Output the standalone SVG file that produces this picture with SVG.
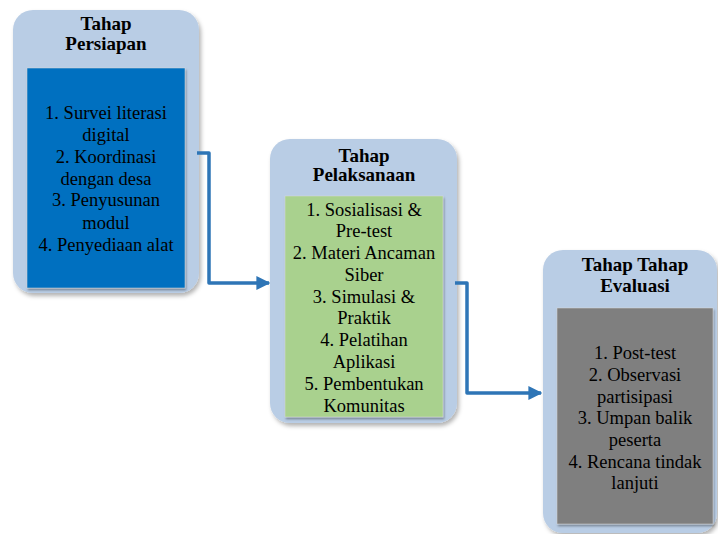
<svg xmlns="http://www.w3.org/2000/svg" width="718" height="534" viewBox="0 0 718 534">
<defs>
<filter id="sh" x="-10%" y="-10%" width="130%" height="130%">
<feDropShadow dx="2" dy="3" stdDeviation="2" flood-color="#000" flood-opacity="0.3"/>
</filter>
<filter id="sh2" x="-10%" y="-10%" width="130%" height="130%">
<feDropShadow dx="1" dy="2" stdDeviation="1" flood-color="#000" flood-opacity="0.35"/>
</filter>
<marker id="arr" markerWidth="4" markerHeight="4" refX="3.6" refY="2" orient="auto" markerUnits="strokeWidth">
<path d="M0,0 L4,2 L0,4 z" fill="#2E75B6"/>
</marker>
</defs>
<style>
.outer{fill:#B9CDE5;filter:url(#sh);}
.inner{filter:url(#sh2);stroke:#D9D9D9;stroke-width:0.5;}
.title{font-family:"Liberation Serif",serif;font-weight:bold;font-size:19px;fill:#000;text-anchor:middle;}
.body{font-family:"Liberation Serif",serif;font-size:18.5px;fill:#000;text-anchor:middle;}
.conn{fill:none;stroke:#2E75B6;stroke-width:3.5;stroke-linejoin:round;}
</style>
<g id="node-persiapan">
<rect class="outer" x="13" y="10" width="186" height="283" rx="20"/>
<rect class="inner" x="27" y="68" width="158" height="220" fill="#0070C0"/>
<text class="title" x="106" y="30">Tahap</text>
<text class="title" x="106" y="50">Persiapan</text>
<text class="body" x="106" y="119">1. Survei literasi</text>
<text class="body" x="106" y="141">digital</text>
<text class="body" x="106" y="163">2. Koordinasi</text>
<text class="body" x="106" y="185">dengan desa</text>
<text class="body" x="106" y="206">3. Penyusunan</text>
<text class="body" x="106" y="229">modul</text>
<text class="body" x="106" y="251">4. Penyediaan alat</text>
</g>
<g id="node-pelaksanaan">
<rect class="outer" x="270" y="139" width="187" height="284" rx="20"/>
<rect class="inner" x="285" y="196" width="158" height="221" fill="#A9D18E"/>
<text class="title" x="364" y="162">Tahap</text>
<text class="title" x="364" y="181">Pelaksanaan</text>
<text class="body" x="364" y="216">1. Sosialisasi &amp;</text>
<text class="body" x="364" y="237">Pre-test</text>
<text class="body" x="364" y="259">2. Materi Ancaman</text>
<text class="body" x="364" y="281">Siber</text>
<text class="body" x="364" y="303">3. Simulasi &amp;</text>
<text class="body" x="364" y="324">Praktik</text>
<text class="body" x="364" y="346">4. Pelatihan</text>
<text class="body" x="364" y="368">Aplikasi</text>
<text class="body" x="364" y="390">5. Pembentukan</text>
<text class="body" x="364" y="412">Komunitas</text>
</g>
<g id="node-evaluasi">
<rect class="outer" x="543" y="250" width="174" height="283" rx="20"/>
<rect class="inner" x="557" y="308" width="156" height="216" fill="#7F7F7F"/>
<text class="title" x="635" y="271">Tahap Tahap</text>
<text class="title" x="635" y="292">Evaluasi</text>
<text class="body" x="635" y="359">1. Post-test</text>
<text class="body" x="635" y="381">2. Observasi</text>
<text class="body" x="635" y="403">partisipasi</text>
<text class="body" x="635" y="424">3. Umpan balik</text>
<text class="body" x="635" y="446">peserta</text>
<text class="body" x="635" y="468">4. Rencana tindak</text>
<text class="body" x="635" y="489">lanjuti</text>
</g>
<g id="connectors">
<path class="conn" d="M197,153 H209 V283 H269" marker-end="url(#arr)"/>
<path class="conn" d="M455,283 H467 V393 H541" marker-end="url(#arr)"/>
</g>
</svg>
